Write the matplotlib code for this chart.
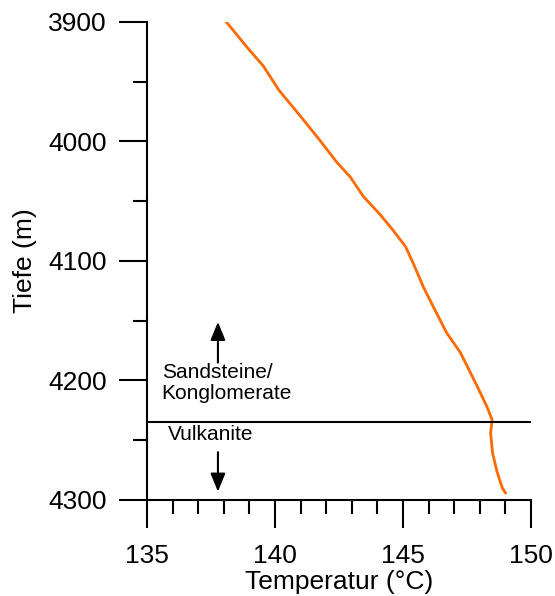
"""Temperature log vs depth (Tiefe) with lithology boundary."""

import numpy as np
import matplotlib.pyplot as plt
from matplotlib.ticker import MultipleLocator

plt.rcParams['font.family'] = ['Liberation Sans', 'DejaVu Sans']

temperatur = np.array([138.1, 138.9, 139.55, 140.15, 141.0, 141.75, 142.4, 142.95,
                       143.45, 144.1, 144.6, 145.1, 145.4, 145.8, 146.2, 146.7, 147.25,
                       147.9, 148.3, 148.48, 148.42, 148.5, 148.68, 148.88, 149.0])
tiefe = np.array([3900, 3921, 3937, 3957, 3979, 3999, 4017, 4030,
                  4046, 4061, 4074, 4088, 4102, 4122, 4139, 4160, 4177,
                  4205, 4223, 4233, 4244, 4261, 4277, 4290, 4294])

grenze = 4235  # Sandsteine / Vulkanite boundary

fig = plt.figure(figsize=(5.55, 5.96), dpi=100)
ax = fig.add_axes([0.2649, 0.1611, 0.6919, 0.802])

ax.plot(temperatur, tiefe, color='#ff6a00', lw=2)
ax.axhline(grenze, color='black', lw=1.5)

ax.set_xlim(135, 150)
ax.set_ylim(4300, 3900)

for s in ['top', 'right']:
    ax.spines[s].set_visible(False)
for s in ['left', 'bottom']:
    ax.spines[s].set_linewidth(1.5)

ax.xaxis.set_major_locator(MultipleLocator(5))
ax.xaxis.set_minor_locator(MultipleLocator(1))
ax.yaxis.set_major_locator(MultipleLocator(100))
ax.yaxis.set_minor_locator(MultipleLocator(50))
ax.tick_params(which='major', length=20, width=1.5, labelsize=19)
ax.tick_params(which='minor', length=10, width=1.5)
ax.tick_params(axis='y', which='major', pad=9)
ax.tick_params(axis='x', which='major', pad=12)

ax.set_xlabel("Temperatur (°C)", fontsize=19, labelpad=1)
ax.set_ylabel("Tiefe (m)", fontsize=19, labelpad=8)

# lithology annotations
ax.text(135.57, 4202, "Sandsteine/\nKonglomerate", fontsize=15,
        va='center', ha='left', linespacing=1.1)
ax.text(135.82, 4250, "Vulkanite", fontsize=15, va='baseline', ha='left')
arrow = dict(arrowstyle='-|>,head_width=0.45,head_length=1.1',
             color='black', lw=1.5, shrinkA=0, shrinkB=0)
ax.annotate("", xy=(137.77, 4151), xytext=(137.77, 4185), arrowprops=arrow)
ax.annotate("", xy=(137.77, 4293), xytext=(137.77, 4260), arrowprops=arrow)

plt.savefig('out.png', dpi=100)
